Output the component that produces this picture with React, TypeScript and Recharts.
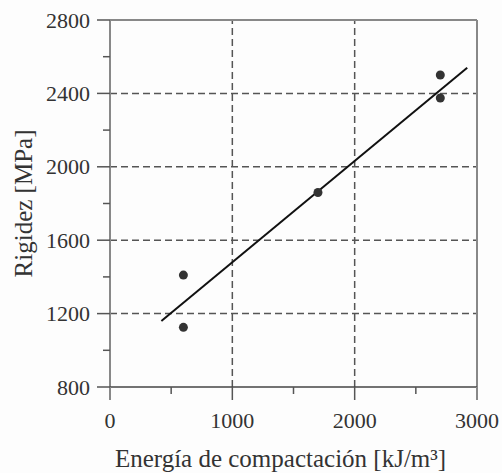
import React from "react";
import { ScatterChart, Scatter, XAxis, YAxis, ReferenceLine } from "recharts";

const energy = [600, 600, 1700, 2700, 2700];
const stiffness = [1410, 1125, 1860, 2500, 2375];
const fitEnergy = [420, 2920];
const fitStiffness = [1160, 2540];

const xTicks = [0, 500, 1000, 1500, 2000, 2500, 3000];
const xMajor = [0, 1000, 2000, 3000];
const yTicks = [800, 1000, 1200, 1400, 1600, 1800, 2000, 2200, 2400, 2600, 2800];
const yMajor = [800, 1200, 1600, 2000, 2400, 2800];
const xGrid = [1000, 2000];
const yGrid = [1200, 1600, 2000, 2400];

const xTitle = "Energía de compactación [kJ/m³]";
const yTitle = "Rigidez [MPa]";

const points = energy.map((e, i) => ({ x: e, y: stiffness[i] }));
const fit = fitEnergy.map((e, i) => ({ x: e, y: fitStiffness[i] }));

const FONT = "'Liberation Serif', 'Times New Roman', serif";
const TXT = "#333";

const YTick = (props: any) => {
  const { x, y, payload } = props;
  const major = yMajor.includes(payload.value);
  return (
    <g>
      <line x1={x - (major ? 13 : 7)} x2={x} y1={y} y2={y} stroke="#555" strokeWidth={1.5} />
      {major && (
        <text x={x - 20} y={y} textAnchor="end" dominantBaseline="central" fontFamily={FONT} fontSize={22} fill={TXT}>
          {payload.value}
        </text>
      )}
    </g>
  );
};

const XTick = (props: any) => {
  const { x, y, payload } = props;
  const major = xMajor.includes(payload.value);
  const edge = payload.value === 0 || payload.value === 3000;
  return (
    <g>
      <line x1={x} x2={x} y1={y} y2={y + (major ? 13 : 7)} stroke={edge ? "#888" : "#555"} strokeWidth={edge ? 2 : 1.5} />
      {major && (
        <text x={x} y={y + 33} textAnchor="middle" dominantBaseline="central" fontFamily={FONT} fontSize={22} fill={TXT}>
          {payload.value}
        </text>
      )}
    </g>
  );
};

export default function App() {
  return (
    <div style={{ position: "absolute", left: 0, top: 0, background: "#fdfdfd" }}>
      <ScatterChart width={502} height={473} margin={{ top: 20, right: 25, bottom: 0, left: 0 }}>
        <XAxis
          type="number"
          dataKey="x"
          domain={[0, 3000]}
          ticks={xTicks}
          tick={<XTick />}
          tickSize={0}
          tickMargin={0}
          tickLine={false}
          axisLine={false}
          height={86}
          label={{
            content: (p: any) => {
              const vb = p.viewBox;
              return (
                <text x={vb.x + vb.width / 2 - 13} y={vb.y + 71} textAnchor="middle" dominantBaseline="central" fontFamily={FONT} fontSize={25} fill={TXT}>
                  {xTitle}
                </text>
              );
            },
          }}
        />
        <YAxis
          type="number"
          dataKey="y"
          domain={[800, 2800]}
          ticks={yTicks}
          tick={<YTick />}
          tickSize={0}
          tickMargin={0}
          tickLine={false}
          axisLine={false}
          width={110}
          label={{
            content: (p: any) => {
              const vb = p.viewBox;
              const cx = vb.x + 23;
              const cy = vb.y + vb.height / 2;
              return (
                <text x={cx} y={cy} textAnchor="middle" dominantBaseline="central" transform={`rotate(-90 ${cx} ${cy})`} fontFamily={FONT} fontSize={25} fill={TXT}>
                  {yTitle}
                </text>
              );
            },
          }}
        />
        {xGrid.map((v) => (
          <ReferenceLine key={"gx" + v} x={v} stroke="#555" strokeWidth={1.5} strokeDasharray="7 4" />
        ))}
        {yGrid.map((v) => (
          <ReferenceLine key={"gy" + v} y={v} stroke="#555" strokeWidth={1.5} strokeDasharray="7 4" />
        ))}
        <ReferenceLine y={2800} stroke="#888" strokeWidth={2} />
        <ReferenceLine x={3000} stroke="#888" strokeWidth={2} />
        <ReferenceLine x={0} stroke="#888" strokeWidth={2} />
        <ReferenceLine y={800} stroke="#444" strokeWidth={1.5} />
        <Scatter
          data={fit}
          line={{ stroke: "#111", strokeWidth: 2 }}
          shape={() => null}
          isAnimationActive={false}
        />
        <Scatter
          data={points}
          fill="#333"
          shape={(p: any) => <circle cx={p.cx} cy={p.cy} r={4.5} fill="#333" />}
          isAnimationActive={false}
        />
      </ScatterChart>
    </div>
  );
}
